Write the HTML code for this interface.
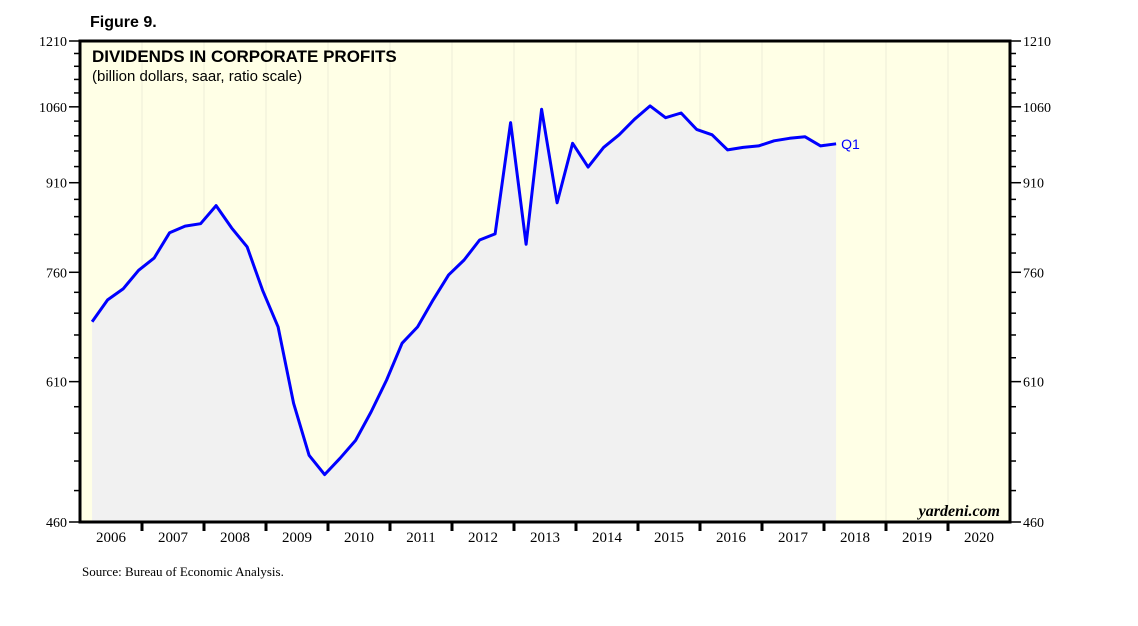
<!DOCTYPE html>
<html><head><meta charset="utf-8"><style>
body{margin:0;background:#fff;width:1138px;height:621px;overflow:hidden}
svg text{font-family:"Liberation Serif",serif}
</style></head><body>
<svg id="c" width="1138" height="621">
<rect x="80" y="41" width="930" height="481" fill="#ffffe6"/>
<g id="grid"></g>
<path id="area" fill="#f1f1f1"/>
<path id="line" fill="none" stroke="#0000ff" stroke-width="3" stroke-linejoin="round"/>
<g id="axes"></g>
<rect x="80" y="41" width="930" height="481" fill="none" stroke="#000" stroke-width="3"/>
<text x="90" y="27" font-weight="bold" font-size="16" style="font-family:'Liberation Sans',sans-serif">Figure 9.</text>
<text x="92" y="62" font-weight="bold" font-size="17" style="font-family:'Liberation Sans',sans-serif">DIVIDENDS IN CORPORATE PROFITS</text>
<text x="92" y="81" font-size="15" style="font-family:'Liberation Sans',sans-serif">(billion dollars, saar, ratio scale)</text>
<text x="1000" y="516" font-size="16" font-style="italic" font-weight="bold" text-anchor="end">yardeni.com</text>
<text x="82" y="576" font-size="13">Source: Bureau of Economic Analysis.</text>
</svg>
<script>
const values=[688,719,735,763,782,823,834,838,869,831,800,733,681,584,526,506,523,542,574,612,659,681,719,756,779,811,821,1027,804,1055,874,985,939,977,1002,1034,1062,1037,1047,1013,1002,972,977,980,990,995,998,980,984];
const years=[2006,2007,2008,2009,2010,2011,2012,2013,2014,2015,2016,2017,2018,2019,2020];
const yTicks=[460,610,760,910,1060,1210];
const lastLabel="Q1";
const L=80,R=1010,T=41,B=522,ymin=460,ymax=1210;
const xs=t=>L+t*(R-L)/years.length;
const xq=i=>xs((i+0.78)/4);
const ys=v=>B-(Math.log(v/ymin)/Math.log(ymax/ymin))*(B-T);
const NS="http://www.w3.org/2000/svg";
function mk(tag,at,parent){const e=document.createElementNS(NS,tag);for(const k in at)e.setAttribute(k,at[k]);parent.appendChild(e);return e;}
const grid=document.getElementById('grid'),axes=document.getElementById('axes');
years.forEach((y,k)=>{
 if(k>0){const g=mk('line',{x1:xs(k),x2:xs(k),y1:T,y2:B,stroke:'#eeeed8','stroke-width':1},grid);
 
 
 const t=mk('line',{x1:xs(k),x2:xs(k),y1:B,y2:B+9,stroke:'#000','stroke-width':3},axes);
 
 }
 const tx=mk('text',{x:xs(k+0.5),y:B+20,'font-size':15,'text-anchor':'middle'},axes);
 tx.textContent=y;
 
 
});
for(let v=ymin;v<=ymax;v+=30){
 const major=yTicks.includes(v);
 [[L,-1],[R,1]].forEach(([x,d])=>{
  const t=mk('line',{x1:x,x2:x+d*(major?11:6),y1:ys(v),y2:ys(v),stroke:'#000','stroke-width':1.5},axes);
  
  
 });
}
yTicks.forEach(v=>{
 const a=mk('text',{x:L-13,y:ys(v)+5,'font-size':14,'text-anchor':'end'},axes);a.textContent=v;
 
 
 const b=mk('text',{x:R+13,y:ys(v)+5,'font-size':14},axes);b.textContent=v;
 
 
});
let d=values.map((v,i)=>(i?'L':'M')+xq(i).toFixed(1)+','+ys(v).toFixed(1)).join('');
document.getElementById('line').setAttribute('d',d);
const n=values.length-1;
document.getElementById('area').setAttribute('d',d+'L'+xq(n).toFixed(1)+','+B+'L'+xq(0).toFixed(1)+','+B+'Z');
const q=mk('text',{x:xq(n)+5,y:ys(values[n])+5,'font-size':14,fill:'#0000ff',style:"font-family:'Liberation Sans',sans-serif"},document.getElementById('c'));
q.textContent=lastLabel;


</script>
</body></html>
